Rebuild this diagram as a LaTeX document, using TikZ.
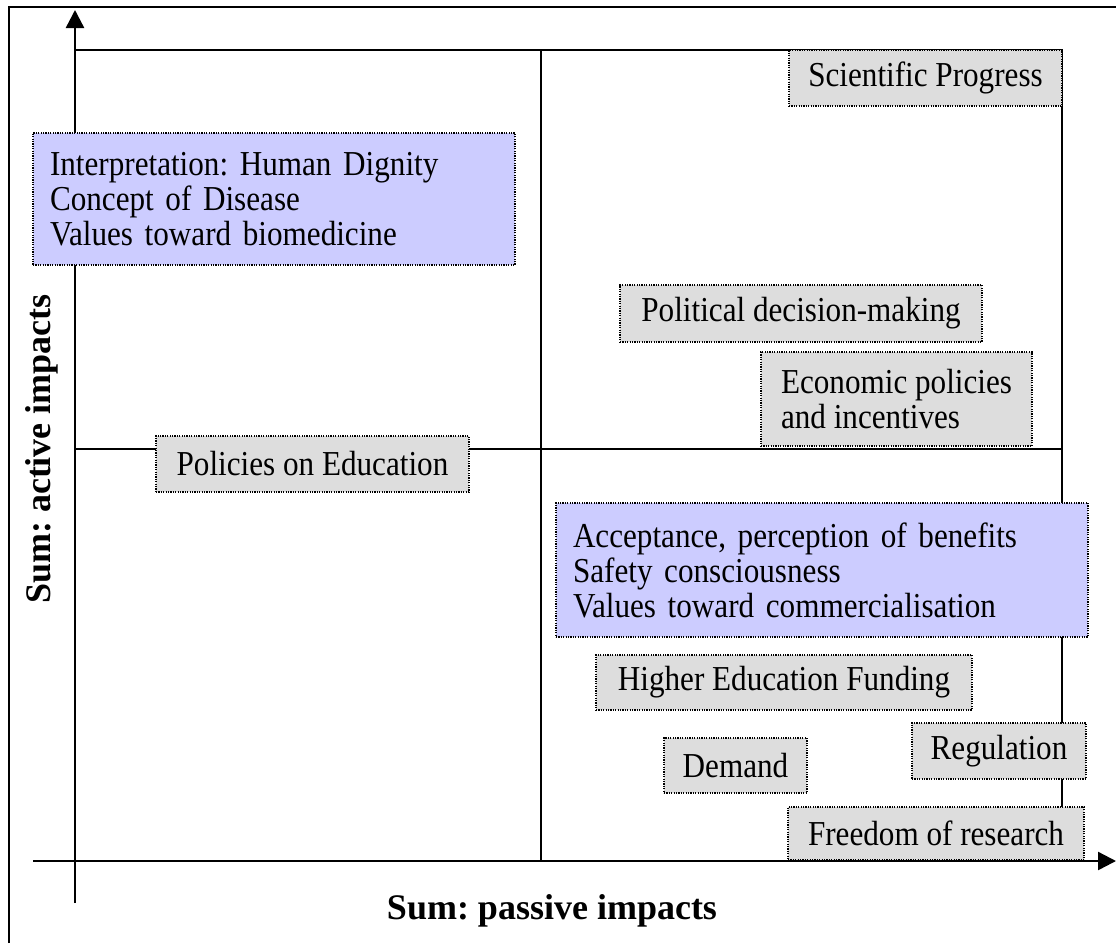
\documentclass[tikz,border=0pt]{standalone}
\usepackage{fontspec}
\setmainfont{Liberation Serif}
\newfontfamily\narrowserif[FakeStretch=0.89]{Liberation Serif}
\usetikzlibrary{arrows.meta}
\definecolor{boxgrey}{HTML}{DDDDDD}
\definecolor{boxblue}{HTML}{CCCCFF}
\frenchspacing
\begin{document}
\begin{tikzpicture}[x=1pt,y=-1pt,
  factor/.style={draw=black, line width=1.2pt, dash pattern=on 1.2pt off 1.2pt,
    fill=boxgrey, inner sep=0pt, font=\narrowserif\fontsize{35}{35}\selectfont},
  cluster/.style={factor, fill=boxblue, align=left, inner xsep=17pt},
  gridline/.style={line width=1.7pt},
  axis/.style={line width=2.4pt, -{Triangle[length=18pt,width=18pt]}},
  axislabel/.style={font=\fontsize{36}{40}\selectfont\bfseries, inner sep=0pt},
]
\useasboundingbox (0,0) rectangle (1116,943);
\fill[white] (0,0) rectangle (1116,943);

% outer frame (left and top edges)
\draw[line width=2.4pt] (9,943) -- (9,7) -- (1116,7);

% quadrant grid
\coordinate (gTL) at (75,50);
\coordinate (gTM) at (541,50);
\coordinate (gTR) at (1062,50);
\coordinate (gML) at (75,449);
\coordinate (gMR) at (1062,449);
\coordinate (gBM) at (541,861);
\coordinate (gBR) at (1062,861);
\draw[gridline] (gTL) -- (gTR) -- (gBR);
\draw[gridline] (gTM) -- (gBM);
\draw[gridline] (gML) -- (gMR);

% axes
\coordinate (yFoot) at (75,903);
\coordinate (yTip) at (75,10);
\coordinate (xFoot) at (33,861);
\coordinate (xTip) at (1116,861);
\draw[axis] (yFoot) -- (yTip);
\draw[axis] (xFoot) -- (xTip);

% axis titles
\node[axislabel] (xlab) at (552,911) {Sum: passive impacts};
\node[axislabel, rotate=90] (ylab) at (42,449) {Sum: active impacts};

% factors
\node[factor, minimum width=273pt, minimum height=56pt] (sci) at (925.5,78) {Scientific Progress};
\node[cluster, text width=448pt, minimum height=132pt] (values) at (274,199)
  {Interpretation: Human Dignity\\Concept of Disease\\Values toward biomedicine};
\node[factor, minimum width=362pt, minimum height=57pt] (pol) at (801,313.5) {Political decision-making};
\node[factor, align=left, minimum width=271pt, minimum height=94pt] (eco) at (896.5,399)
  {Economic policies\\and incentives};
\node[factor, minimum width=313pt, minimum height=56pt] (edu) at (312.5,464) {Policies on Education};
\node[cluster, text width=498pt, minimum height=134pt] (accept) at (822,570)
  {Acceptance, perception of benefits\\Safety consciousness\\Values toward commercialisation};
\node[factor, minimum width=376pt, minimum height=55pt] (hef) at (784,682.5) {Higher Education Funding};
\node[factor, minimum width=143pt, minimum height=55pt] (dem) at (735.5,765.5) {Demand};
\node[factor, minimum width=174pt, minimum height=56pt] (reg) at (999,751) {Regulation};
\node[factor, minimum width=296pt, minimum height=53pt] (free) at (936,833.5) {Freedom of research};
\end{tikzpicture}
\end{document}
